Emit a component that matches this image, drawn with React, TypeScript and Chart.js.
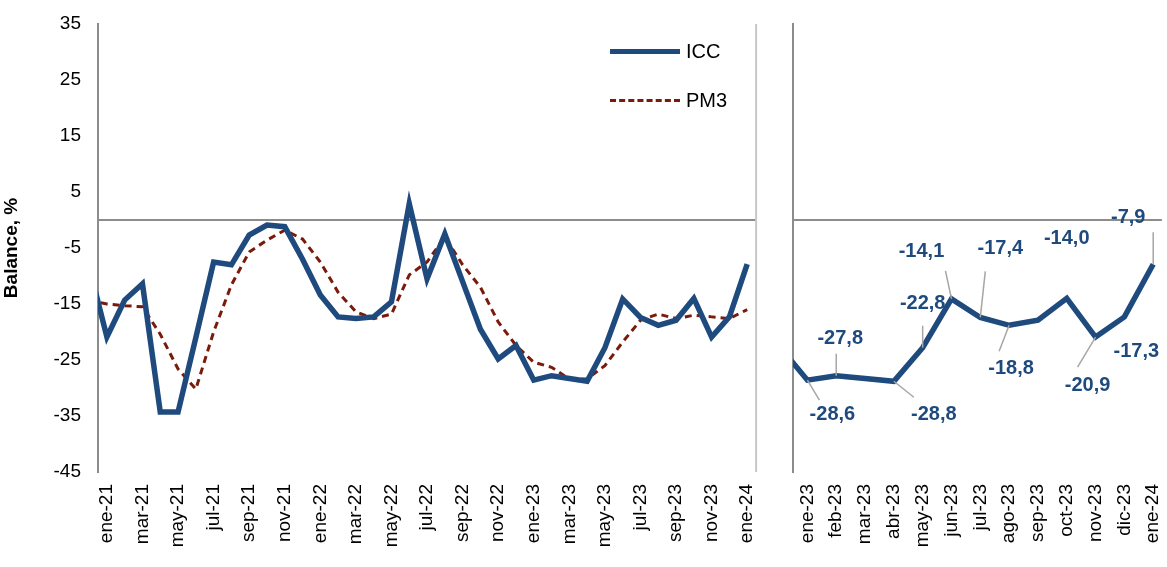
import React, { useEffect, useRef } from 'react';
import { Chart, registerables } from 'chart.js';

Chart.register(...registerables);

const FONT = '"Liberation Sans", Arial, sans-serif';
const ICC_COLOR = '#1F4A7E';
const PM3_COLOR = '#7A1A0A';

// ene-21 .. ene-24 (index 0..36); index -1 is dic-20, clipped at the left edge
const fullLabels = [
  'ene-21', 'feb-21', 'mar-21', 'abr-21', 'may-21', 'jun-21', 'jul-21', 'ago-21', 'sep-21', 'oct-21', 'nov-21', 'dic-21',
  'ene-22', 'feb-22', 'mar-22', 'abr-22', 'may-22', 'jun-22', 'jul-22', 'ago-22', 'sep-22', 'oct-22', 'nov-22', 'dic-22',
  'ene-23', 'feb-23', 'mar-23', 'abr-23', 'may-23', 'jun-23', 'jul-23', 'ago-23', 'sep-23', 'oct-23', 'nov-23', 'dic-23',
  'ene-24',
];
const iccPrev = -8.3;
const icc = [
  -20.9, -14.3, -11.4, -34.3, -34.3, -21.0, -7.5, -8.0, -2.7, -0.9, -1.2, -7.0,
  -13.4, -17.3, -17.6, -17.3, -14.6, 2.9, -10.5, -2.5, -11.0, -19.5, -24.8, -22.4,
  -28.6, -27.8, -28.3, -28.8, -22.8, -14.1, -17.4, -18.8, -17.9, -14.0, -20.9, -17.3,
  -7.9,
];
const pm3Prev = -14.3;
const pm3 = [
  -15.0, -15.3, -15.5, -20.4, -26.6, -30.2, -20.0, -11.6, -5.7, -3.6, -1.8, -3.4,
  -7.5, -12.9, -16.4, -17.6, -16.8, -9.8, -7.5, -3.0, -8.0, -12.0, -18.2, -22.4,
  -25.4, -26.3, -28.4, -28.4, -26.0, -21.8, -17.9, -16.8, -17.6, -17.0, -17.3, -17.6,
  -16.0,
];
const yTicks = [35, 25, 15, 5, -5, -15, -25, -35, -45];

const zoomLabels = fullLabels.slice(24);
const zoomValues = icc.slice(24);
const zoomPrev = icc[23];
// label text offset [dx, dy] and leader end [lx, ly] relative to each point (null = no label)
const zoomLabelPos: Array<null | [number, number, number, number]> = [
  [25, 34, 12, 20], [4, -37, 0, -22], null, [40, 33, 20, 16], [0, -44, 0, -22],
  [-30, -47, -6, -28], [20, -69, 5, -46], [2, 43, -10, 26], null, [0, -60, 0, 0],
  [-8, 48, -18, 30], [12, 35, 0, 0], [-25, -47, 0, -32],
];

const baseScaleY = (showTicks: boolean) => ({
  min: -45,
  max: 35,
  afterBuildTicks: (s: any) => {
    s.ticks = yTicks.map((v) => ({ value: v }));
  },
  afterFit: (s: any) => {
    s.width = showTicks ? 98 : 0;
  },
  display: true,
  title: showTicks
    ? { display: true, text: 'Balance, %', color: '#000', font: { family: FONT, size: 19, weight: 'bold' as const }, padding: 0 }
    : { display: false },
  ticks: { display: showTicks, color: '#000', font: { family: FONT, size: 19 }, padding: 9 },
  grid: { display: false },
  border: { display: true, color: '#8c8c8c', width: 2 },
});

const baseScaleX = (min: number, max: number, labels: string[], step: number) => ({
  type: 'linear' as const,
  min,
  max,
  afterBuildTicks: (s: any) => {
    const t = [];
    for (let i = 0; i < labels.length; i += step) t.push({ value: i });
    s.ticks = t;
  },
  afterFit: (s: any) => {
    s.height = 95;
  },
  ticks: {
    color: '#000',
    font: { family: FONT, size: 19 },
    minRotation: 90,
    maxRotation: 90,
    padding: 4,
    callback: (v: any) => labels[Math.round(v)] ?? '',
  },
  grid: { display: false },
  border: { display: false },
});

const zeroLine = {
  id: 'zeroLine',
  beforeDatasetsDraw(chart: any) {
    const { ctx, chartArea, scales } = chart;
    const y = scales.y.getPixelForValue(0);
    ctx.save();
    ctx.strokeStyle = '#8c8c8c';
    ctx.lineWidth = 2;
    ctx.beginPath();
    ctx.moveTo(chartArea.left, y);
    ctx.lineTo(chartArea.right, y);
    ctx.stroke();
    ctx.restore();
  },
};

const rightBorder = {
  id: 'rightBorder',
  afterDraw(chart: any) {
    const { ctx, chartArea } = chart;
    ctx.save();
    ctx.strokeStyle = '#c8c8c8';
    ctx.lineWidth = 2;
    ctx.beginPath();
    ctx.moveTo(chartArea.right, chartArea.top);
    ctx.lineTo(chartArea.right, chartArea.bottom);
    ctx.stroke();
    ctx.restore();
  },
};

const zoomLabelsPlugin = {
  id: 'zoomLabels',
  afterDatasetsDraw(chart: any) {
    const { ctx } = chart;
    const meta = chart.getDatasetMeta(0);
    ctx.save();
    ctx.font = `bold 20px ${FONT}`;
    ctx.textAlign = 'center';
    ctx.textBaseline = 'middle';
    zoomValues.forEach((v, i) => {
      const pos = zoomLabelPos[i];
      if (!pos) return;
      const pt = meta.data[i + 1];
      const [dx, dy, lx, ly] = pos;
      if (lx !== 0 || ly !== 0) {
        ctx.strokeStyle = '#a6a6a6';
        ctx.lineWidth = 1.5;
        ctx.beginPath();
        ctx.moveTo(pt.x, pt.y);
        ctx.lineTo(pt.x + lx, pt.y + ly);
        ctx.stroke();
      }
      ctx.fillStyle = ICC_COLOR;
      ctx.fillText(v.toFixed(1).replace('.', ','), pt.x + dx, pt.y + dy);
    });
    ctx.restore();
  },
};

const toPoints = (prev: number, vals: number[]) => [{ x: -1, y: prev }, ...vals.map((y, i) => ({ x: i, y }))];

export default function App() {
  const leftRef = useRef<HTMLCanvasElement | null>(null);
  const rightRef = useRef<HTMLCanvasElement | null>(null);

  useEffect(() => {
    document.body.style.margin = '0';
    const left = new Chart(leftRef.current!, {
      type: 'line',
      data: {
        datasets: [
          { label: 'ICC', data: toPoints(iccPrev, icc), borderColor: ICC_COLOR, borderWidth: 5.5, pointRadius: 0, tension: 0 },
          { label: 'PM3', data: toPoints(pm3Prev, pm3), borderColor: PM3_COLOR, borderWidth: 3, borderDash: [7, 5], pointRadius: 0, tension: 0 },
        ],
      },
      options: {
        responsive: false,
        animation: false,
        layout: { padding: { top: 24, right: 0, left: 0, bottom: 0 } },
        plugins: { legend: { display: false }, tooltip: { enabled: false } },
        scales: { x: baseScaleX(-0.5, 36.5, fullLabels, 2), y: baseScaleY(true) },
      },
      plugins: [zeroLine, rightBorder],
    });
    const right = new Chart(rightRef.current!, {
      type: 'line',
      data: {
        datasets: [
          { label: 'ICC', data: toPoints(zoomPrev, zoomValues), borderColor: ICC_COLOR, borderWidth: 5.5, pointRadius: 0, tension: 0 },
        ],
      },
      options: {
        responsive: false,
        animation: false,
        layout: { padding: { top: 24, right: 0, left: 8, bottom: 0 } },
        plugins: { legend: { display: false }, tooltip: { enabled: false } },
        scales: { x: baseScaleX(-0.5, 12.3, zoomLabels, 1), y: baseScaleY(false) },
      },
      plugins: [zeroLine, zoomLabelsPlugin],
    });
    return () => {
      left.destroy();
      right.destroy();
    };
  }, []);

  const legendText: React.CSSProperties = { fontFamily: FONT, fontSize: 20, color: '#000', marginLeft: 6 };
  return (
    <div style={{ position: 'relative', width: 1167, height: 567, overflow: 'hidden' }}>
      <canvas ref={leftRef} width={774} height={567} style={{ position: 'absolute', left: 0, top: 0 }} />
      <canvas ref={rightRef} width={395} height={567} style={{ position: 'absolute', left: 785, top: 0 }} />
      <div style={{ position: 'absolute', left: 610, top: 40, display: 'flex', alignItems: 'center' }}>
        <div style={{ width: 70, height: 5, background: ICC_COLOR }} />
        <span style={legendText}>ICC</span>
      </div>
      <div style={{ position: 'absolute', left: 610, top: 89, display: 'flex', alignItems: 'center' }}>
        <div style={{ width: 70, height: 0, borderTop: `3px dashed ${PM3_COLOR}` }} />
        <span style={legendText}>PM3</span>
      </div>
    </div>
  );
}
